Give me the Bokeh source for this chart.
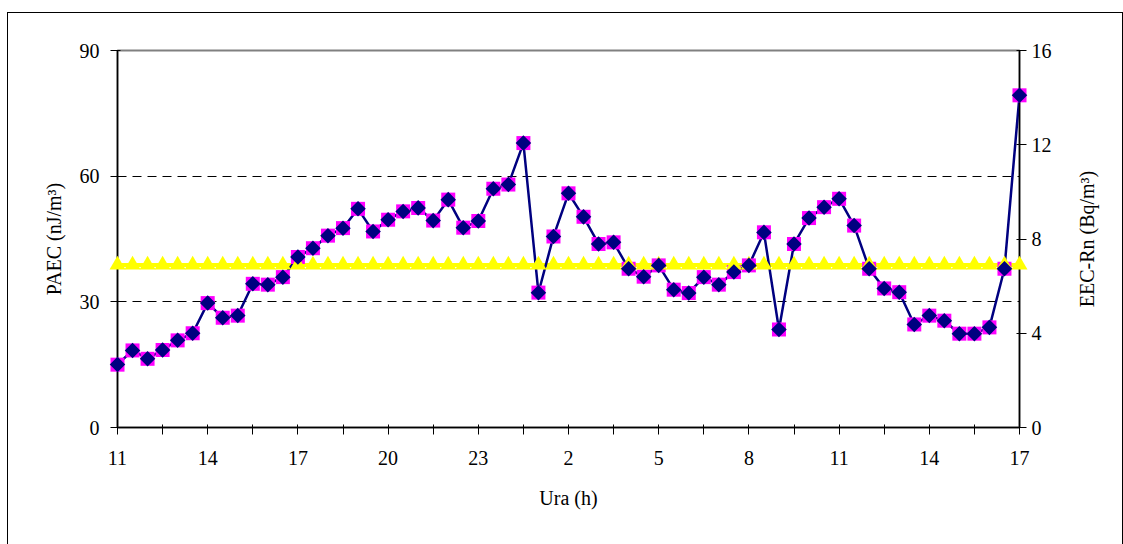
import math
import numpy as np
from bokeh.plotting import figure
from bokeh.models import (Range1d, LinearAxis, FixedTicker, InlineStyleSheet)
from bokeh.core.properties import value
from bokeh.embed import file_html
from bokeh.resources import INLINE

# Half-hourly readings from 11 h on day one to 17 h on day two
paec = [15.0, 18.4, 16.4, 18.5, 20.8, 22.5, 29.7, 26.2, 26.7, 34.3,
        34.1, 35.9, 40.7, 42.8, 45.8, 47.6, 52.2, 46.8, 49.6, 51.6,
        52.4, 49.4, 54.4, 47.7, 49.3, 57.0, 58.0, 67.9, 32.2, 45.6,
        55.9, 50.3, 43.8, 44.2, 37.9, 36.0, 38.7, 32.9, 32.1, 35.9,
        34.1, 37.1, 38.7, 46.6, 23.4, 43.8, 50.0, 52.6, 54.6, 48.2,
        37.9, 33.2, 32.3, 24.6, 26.7, 25.5, 22.4, 22.4, 23.9, 37.9,
        79.3]          # nJ/m3

eec_rn = [2.67, 3.27, 2.92, 3.29, 3.70, 4.00, 5.28, 4.66, 4.75, 6.10,
          6.06, 6.38, 7.24, 7.61, 8.14, 8.46, 9.28, 8.32, 8.82, 9.17,
          9.32, 8.78, 9.67, 8.48, 8.76, 10.13, 10.31, 12.07, 5.72, 8.11,
          9.94, 8.94, 7.79, 7.86, 6.74, 6.40, 6.88, 5.85, 5.71, 6.38,
          6.06, 6.60, 6.88, 8.28, 4.16, 7.79, 8.89, 9.35, 9.71, 8.57,
          6.74, 5.90, 5.74, 4.37, 4.75, 4.53, 3.98, 3.98, 4.25, 6.74,
          14.10]       # Bq/m3

reference_level = 6.9  # Bq/m3, constant level
reference = [reference_level] * len(eec_rn)

hour_labels = ["11", "14", "17", "20", "23", "2", "5", "8", "11", "14", "17"]

steps = list(range(len(paec)))               # half-hour steps
label_steps = [i * 6 for i in range(len(hour_labels))]
minor_steps = [s + 3 for s in label_steps[:-1]]

FONT = "Liberation Serif"

p = figure(width=1123, height=544, output_backend="svg", toolbar_location=None,
           x_range=Range1d(0, 60), y_range=Range1d(0, 90),
           min_border_left=117, min_border_right=104,
           min_border_top=50, min_border_bottom=117,
           background_fill_color="white", border_fill_color="white")

p.outline_line_color = "#808080"
p.outline_line_width = 2

p.extra_y_ranges = {"eec": Range1d(0, 16)}

# grid: dashed lines at 30 and 60 only
p.xgrid.visible = False
p.ygrid.ticker = FixedTicker(ticks=[30, 60])
p.ygrid.grid_line_color = "black"
p.ygrid.grid_line_width = 1
p.ygrid.grid_line_dash = "9 6"

# bottom axis
xa = p.xaxis[0]
xa.ticker = FixedTicker(ticks=label_steps, minor_ticks=minor_steps)
xa.major_label_overrides = {s: lab for s, lab in zip(label_steps, hour_labels)}
xa.axis_label = "Ura (h)"

# left axis
ya = p.yaxis[0]
ya.ticker = FixedTicker(ticks=[0, 30, 60, 90])
ya.axis_label = "PAEC (nJ/m³)"

# right axis
yr = LinearAxis(y_range_name="eec", ticker=FixedTicker(ticks=[0, 4, 8, 12, 16]))
p.add_layout(yr, "right")

for ax in (xa, ya, yr):
    ax.axis_line_color = "black"
    ax.axis_line_width = 1.5
    ax.major_tick_line_color = "black"
    ax.minor_tick_line_color = "black"
    ax.major_tick_out = 7
    ax.major_tick_in = 3
    ax.minor_tick_out = 7
    ax.minor_tick_in = 3
    ax.major_label_text_font = FONT
    ax.major_label_text_font_size = "20px"
    ax.major_label_text_color = "black"
    ax.axis_label_text_font = FONT
    ax.axis_label_text_font_size = "20px"
    ax.axis_label_text_font_style = "normal"
    ax.axis_label_text_color = "black"

ya.minor_tick_out = 0
ya.minor_tick_in = 0
yr.minor_tick_out = 0
yr.minor_tick_in = 0
xa.major_label_standoff = 16
xa.axis_label_standoff = 19
ya.major_label_standoff = 11
ya.axis_label_standoff = 12
yr.major_label_standoff = 5

# right axis title, reading bottom to top, centred on the axis
rt = p.text(x=[60], y=[8], y_range_name="eec", x_offset=67,
            text=["EEC-Rn (Bq/m³)"], angle=math.pi / 2,
            text_align="center", text_baseline="middle",
            text_font=value(FONT), text_font_size="20px", text_color="black")
rt.level = "overlay"

# PAEC markers (left axis)
sq = p.scatter(steps, paec, marker="square", size=14,
               fill_color="#FF00FF", line_color=None)
sq.level = "overlay"

# constant level (right axis)
ref_line = p.line(steps, reference, y_range_name="eec",
                  line_color="#FFFF00", line_width=4)
tri = p.scatter(steps, reference, y_range_name="eec", marker="triangle",
                size=16, fill_color="#FFFF00", line_color=None)
tri.level = "overlay"

# EEC-Rn line with diamond markers (right axis)
p.line(steps, eec_rn, y_range_name="eec", line_color="#000080", line_width=2.5)
dia = p.scatter(steps, eec_rn, y_range_name="eec", marker="square",
                angle=math.pi / 4, size=11, fill_color="#000080", line_color=None)
dia.level = "overlay"

# chart frame around the whole figure
p.stylesheets = [InlineStyleSheet(css="""
:host::after {
  content: "";
  position: absolute;
  left: 7px; top: 12px; right: 0px; bottom: 0px;
  border-left: 1px solid #000;
  border-top: 1px solid #000;
  border-right: 1px solid #000;
  pointer-events: none;
}
""")]

open("out.html", "w").write(file_html(p, INLINE))
